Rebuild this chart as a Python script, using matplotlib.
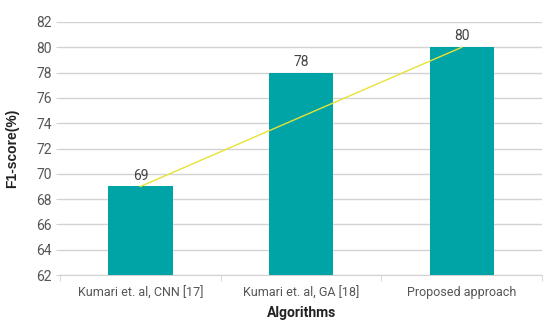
import numpy as np
import matplotlib.pyplot as plt

# datos
algoritmos = ['Kumari et. al, CNN [17]', 'Kumari et. al, GA [18]', 'Proposed approach']
f1 = [69, 78, 80]
yticks = [62, 64, 66, 68, 70, 72, 74, 76, 78, 80, 82]

plt.rcParams['font.family'] = ['Roboto', 'DejaVu Sans']

fig = plt.figure(figsize=(5.56, 3.33), dpi=100)
ax = fig.add_axes([0.108, 0.174, 0.867, 0.76])

x = np.arange(len(algoritmos))
ax.bar(x, f1, width=0.4, color='#00a3a6', zorder=3)
for xi, v in zip(x, f1):
    ax.text(xi, v + 0.3, str(v), ha='center', va='bottom', fontsize=10, color='#444444', zorder=5)

# linea de tendencia entre el primero y el ultimo
ax.plot([x[0], x[-1]], [f1[0], f1[-1]], color='#e8e236', lw=1, zorder=4)

ax.set_xlim(-0.5, 2.5)
ax.set_ylim(62, 82)
ax.set_yticks(yticks)
ax.yaxis.grid(True, color='#d3d3d3', lw=1, zorder=0)
ax.set_xticks(x)
ax.set_xticklabels(algoritmos, fontsize=9, color='#555555')
ax.set_xticks([-0.5, 0.5, 1.5, 2.5], minor=True)
ax.tick_params(axis='x', which='major', length=0, pad=8)
ax.tick_params(axis='x', which='minor', length=4, color='#d3d3d3')
ax.tick_params(axis='y', length=3, color='#d3d3d3', labelsize=10, labelcolor='#555555', pad=3)

for s in ['top', 'right', 'left']:
    ax.spines[s].set_visible(False)
ax.spines['bottom'].set_color('#d3d3d3')

ax.set_xlabel('Algorithms', fontsize=10, fontweight='bold', color='#222222', labelpad=5)
ax.set_ylabel('F1-score(%)', fontsize=10, fontweight='bold', color='#222222', labelpad=12,
              family=['Liberation Sans', 'DejaVu Sans'])

fig.savefig('out.png', dpi=100)
